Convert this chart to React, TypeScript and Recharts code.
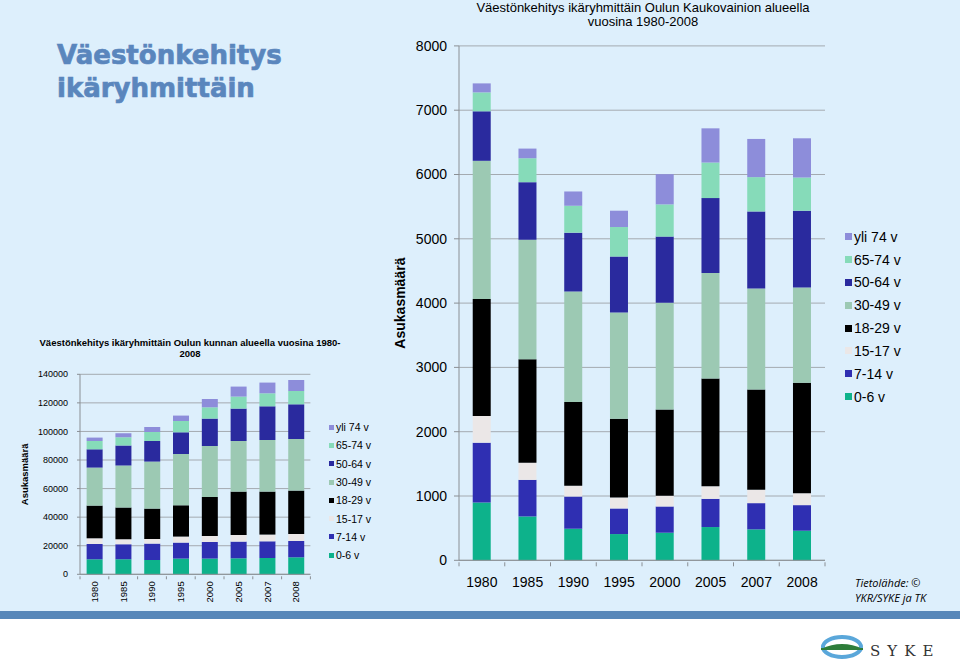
import React from 'react';
import { BarChart, Bar, XAxis, YAxis, CartesianGrid } from 'recharts';

const years = ['1980', '1985', '1990', '1995', '2000', '2005', '2007', '2008'];
const ageGroups = ['0-6 v', '7-14 v', '15-17 v', '18-29 v', '30-49 v', '50-64 v', '65-74 v', 'yli 74 v'];
const groupColors = ['#0db28b', '#2f2fb2', '#ebe7e7', '#000000', '#9cc9b3', '#2a2a9e', '#86dbb9', '#8d8dda'];

// Kaukovainio (big chart)
const kv0_6 = [900, 682, 491, 408, 429, 517, 481, 460];
const kv7_14 = [930, 569, 501, 398, 408, 439, 408, 398];
const kv15_17 = [414, 268, 166, 171, 166, 196, 207, 186];
const kv18_29 = [1819, 1608, 1302, 1225, 1343, 1675, 1560, 1716];
const kv30_49 = [2150, 1860, 1721, 1653, 1659, 1643, 1571, 1483];
const kv50_64 = [770, 894, 915, 869, 1029, 1163, 1199, 1194];
const kv65_74 = [294, 372, 418, 459, 501, 553, 533, 516];
const kvYli74 = [140, 150, 222, 254, 470, 532, 594, 610];
const kvTicks = [0, 1000, 2000, 3000, 4000, 5000, 6000, 7000, 8000];

// Oulu (small chart)
const ou0_6 = [10500, 10500, 10000, 11000, 11000, 11200, 11400, 11900];
const ou7_14 = [10700, 10500, 11500, 11200, 11600, 11700, 11700, 11400];
const ou15_17 = [4000, 3500, 3200, 4200, 4200, 4600, 4700, 4900];
const ou18_29 = [22900, 22200, 21300, 21900, 27300, 30400, 30100, 30400];
const ou30_49 = [26600, 29400, 32900, 35900, 35700, 35400, 36100, 36100];
const ou50_64 = [12800, 14000, 14400, 15200, 19200, 22700, 23600, 24300];
const ou65_74 = [5800, 5800, 6300, 7900, 7900, 8400, 9100, 9300];
const ouYli74 = [2400, 2800, 3500, 3800, 5800, 7000, 7500, 7700];
const ouTicks = [0, 20000, 40000, 60000, 80000, 100000, 120000, 140000];

const toRows = (series: number[][]) =>
    years.map((year, i) => {
        const row: Record<string, any> = { year };
        series.forEach((s, g) => { row['g' + g] = s[i]; });
        return row;
    });

const kvData = toRows([kv0_6, kv7_14, kv15_17, kv18_29, kv30_49, kv50_64, kv65_74, kvYli74]);
const ouData = toRows([ou0_6, ou7_14, ou15_17, ou18_29, ou30_49, ou50_64, ou65_74, ouYli74]);

const FONT = '"Liberation Sans", Arial, sans-serif';
const AXIS = '#8a8f94';
const GRID = '#a4aab0';

// x tick with Excel-style tick marks between categories
const makeXTick = (step: number, fontSize: number, rotated: boolean, markLen: number) => (props: any) => {
    const { x, y, payload, index } = props;
    const axisY = y - 6;
    const last = index === years.length - 1;
    return (
        <g>
            <line x1={x - step / 2} y1={axisY} x2={x - step / 2} y2={axisY + markLen} stroke={AXIS} />
            {last && <line x1={x + step / 2} y1={axisY} x2={x + step / 2} y2={axisY + markLen} stroke={AXIS} />}
            {rotated ? (
                <text x={x} y={axisY + 5} transform={`rotate(-90, ${x}, ${axisY + 5})`} textAnchor="end" dy="0.35em"
                    fontSize={fontSize} fill="#000" fontFamily={FONT}>{payload.value}</text>
            ) : (
                <text x={x} y={axisY} dy={25} textAnchor="middle" fontSize={fontSize} fill="#000" fontFamily={FONT}>{payload.value}</text>
            )}
        </g>
    );
};

const yLabel = (dx: number, fontSize: number) => (props: any) => {
    const { viewBox } = props;
    const cx = viewBox.x + dx;
    const cy = viewBox.y + viewBox.height / 2;
    return (
        <text x={cx} y={cy} transform={`rotate(-90, ${cx}, ${cy})`} textAnchor="middle" dominantBaseline="central"
            fontSize={fontSize} fontWeight="bold" fill="#000" fontFamily={FONT}>Asukasmäärä</text>
    );
};

const Legend: React.FC<{ left: number; top: number; gap: number; fontSize: number; box: number }> = ({ left, top, gap, fontSize, box }) => (
    <div style={{ position: 'absolute', left, top, fontFamily: FONT, fontSize }}>
        {ageGroups.map((name, i) => ({ name, color: groupColors[i] })).reverse().map(item => (
            <div key={item.name} style={{ height: gap, display: 'flex', alignItems: 'center', whiteSpace: 'nowrap' }}>
                <span style={{ width: box, height: box, background: item.color, marginRight: 2, display: 'inline-block' }} />
                <span>{item.name}</span>
            </div>
        ))}
    </div>
);

const App: React.FC = () => {
    return (
        <div style={{ position: 'absolute', left: 0, top: 0, width: 960, height: 672, background: '#ffffff', overflow: 'hidden', fontFamily: FONT }}>
            <div style={{ position: 'absolute', left: 0, top: 0, width: 960, height: 611, background: '#ddeffc' }} />
            <div style={{ position: 'absolute', left: 0, top: 611, width: 960, height: 8, background: '#5787b9' }} />

            {/* slide heading */}
            <div style={{ position: 'absolute', left: 57, top: 39, fontFamily: '"DejaVu Sans", sans-serif', fontWeight: 'bold', fontSize: 26, lineHeight: '33px', color: '#5a86bd', WebkitTextStroke: '0.7px #5a86bd' }}>
                Väestönkehitys<br />ikäryhmittäin
            </div>

            {/* small chart: Oulu */}
            <div style={{ position: 'absolute', left: 0, top: 338, width: 380, textAlign: 'center', fontSize: 9.5, fontWeight: 'bold', lineHeight: '10.5px' }}>
                Väestönkehitys ikäryhmittäin Oulun kunnan alueella vuosina 1980-<br />2008
            </div>
            <div style={{ position: 'absolute', left: 0, top: 330 }}>
                <BarChart width={320} height={280} data={ouData} margin={{ top: 44.3, right: 9.6, bottom: 5.7, left: 0 }} barCategoryGap="23%">
                    <CartesianGrid vertical={false} stroke={GRID} />
                    <XAxis dataKey="year" height={30} axisLine={{ stroke: AXIS }} tickLine={false}
                        tick={makeXTick(230.4 / years.length, 9.5, true, 3)} interval={0} />
                    <YAxis width={80} domain={[0, 140000]} ticks={ouTicks} interval={0} axisLine={{ stroke: AXIS }}
                        tickLine={{ stroke: AXIS }} tickSize={3} tickMargin={9}
                        tick={{ fontSize: 9, fill: '#000', fontFamily: FONT }} label={{ content: yLabel(25, 9.5) }} />
                    <YAxis yAxisId="frame" orientation="right" width={0} domain={[0, 1]} tick={false} tickLine={false} axisLine={{ stroke: AXIS }} />
                    {ageGroups.map((name, i) => (
                        <Bar key={name} dataKey={'g' + i} name={name} stackId="a" fill={groupColors[i]} isAnimationActive={false} />
                    ))}
                </BarChart>
            </div>
            <Legend left={329} top={418} gap={18.3} fontSize={10.5} box={5} />

            {/* big chart: Kaukovainio */}
            <div style={{ position: 'absolute', left: 380, top: 1, width: 526, textAlign: 'center', fontSize: 13, lineHeight: '14px' }}>
                Väestönkehitys ikäryhmittäin Oulun Kaukovainion alueella<br />vuosina 1980-2008
            </div>
            <div style={{ position: 'absolute', left: 380, top: 0 }}>
                <BarChart width={480} height={610} data={kvData} margin={{ top: 45.9, right: 35, bottom: 19.7, left: 0 }} barCategoryGap="30%">
                    <CartesianGrid vertical={false} stroke={GRID} />
                    <XAxis dataKey="year" height={30} axisLine={{ stroke: AXIS }} tickLine={false}
                        tick={makeXTick(366 / years.length, 14, false, 4)} interval={0} />
                    <YAxis width={79} domain={[0, 8000]} ticks={kvTicks} interval={0} axisLine={{ stroke: AXIS }}
                        tickLine={{ stroke: AXIS }} tickSize={5} tickMargin={7}
                        tick={{ fontSize: 14, fill: '#000', fontFamily: FONT }} label={{ content: yLabel(20, 14) }} />
                    <YAxis yAxisId="frame" orientation="right" width={0} domain={[0, 1]} tick={false} tickLine={false} axisLine={{ stroke: AXIS }} />
                    {ageGroups.map((name, i) => (
                        <Bar key={name} dataKey={'g' + i} name={name} stackId="a" fill={groupColors[i]} isAnimationActive={false} />
                    ))}
                </BarChart>
            </div>
            <Legend left={845} top={225.3} gap={22.85} fontSize={14} box={7} />

            {/* source */}
            <div style={{ position: 'absolute', left: 855, top: 575, fontFamily: '"Open Sans", sans-serif', fontStyle: 'italic', fontSize: 11, lineHeight: '15px', color: '#000' }}>
                Tietolähde: ©<br />YKR/SYKE ja TK
            </div>

            {/* SYKE logo */}
            <svg style={{ position: 'absolute', left: 818, top: 632 }} width={130} height={32}>
                <ellipse cx={24} cy={15} rx={19} ry={10} fill="none" stroke="#5aa7da" strokeWidth={4} />
                <path d="M3 17 Q24 7 45 17 Z" fill="#2e7d3a" />
                <rect x={3} y={16} width={42} height={2} fill="#2e7d3a" />
                <text x={52} y={24} fontFamily='"DejaVu Serif", serif' fontSize={15} letterSpacing={7} fill="#333">SYKE</text>
            </svg>
        </div>
    );
};

export default App;
